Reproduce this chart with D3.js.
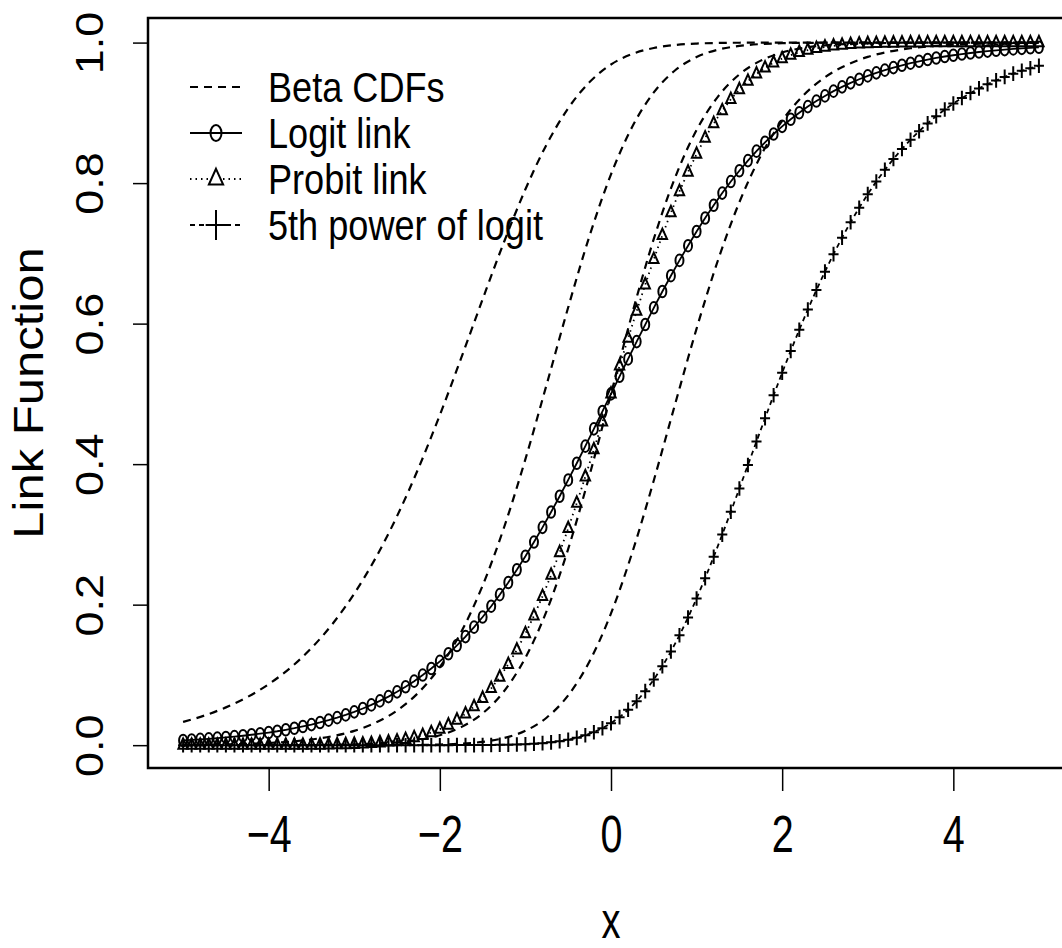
<!DOCTYPE html>
<html>
<head>
<meta charset="utf-8">
<script src="https://cdn.jsdelivr.net/npm/d3@7"></script>
<style>
  body { margin: 0; background: #fff; }
  text { font-family: "Liberation Sans", Arial, Helvetica, sans-serif; fill: #000; }
</style>
</head>
<body>
<script>
// x grid for the marker series (step 0.1)
var xs = [-5.0,-4.9,-4.8,-4.7,-4.6,-4.5,-4.4,-4.3,-4.2,-4.1,
  -4.0,-3.9,-3.8,-3.7,-3.6,-3.5,-3.4,-3.3,-3.2,-3.1,
  -3.0,-2.9,-2.8,-2.7,-2.6,-2.5,-2.4,-2.3,-2.2,-2.1,
  -2.0,-1.9,-1.8,-1.7,-1.6,-1.5,-1.4,-1.3,-1.2,-1.1,
  -1.0,-0.9,-0.8,-0.7,-0.6,-0.5,-0.4,-0.3,-0.2,-0.1,
  0.0,0.1,0.2,0.3,0.4,0.5,0.6,0.7,0.8,0.9,
  1.0,1.1,1.2,1.3,1.4,1.5,1.6,1.7,1.8,1.9,
  2.0,2.1,2.2,2.3,2.4,2.5,2.6,2.7,2.8,2.9,
  3.0,3.1,3.2,3.3,3.4,3.5,3.6,3.7,3.8,3.9,
  4.0,4.1,4.2,4.3,4.4,4.5,4.6,4.7,4.8,4.9,5.0];

var logitVals = [0.0067,0.0074,0.0082,0.0090,0.0100,0.0110,0.0121,0.0134,0.0148,0.0163,
  0.0180,0.0198,0.0219,0.0241,0.0266,0.0293,0.0323,0.0356,0.0392,0.0431,
  0.0474,0.0522,0.0573,0.0630,0.0691,0.0759,0.0832,0.0911,0.0998,0.1091,
  0.1192,0.1301,0.1419,0.1545,0.1680,0.1824,0.1978,0.2142,0.2315,0.2497,
  0.2689,0.2891,0.3100,0.3318,0.3543,0.3775,0.4013,0.4256,0.4502,0.4750,
  0.5000,0.5250,0.5498,0.5744,0.5987,0.6225,0.6457,0.6682,0.6900,0.7109,
  0.7311,0.7503,0.7685,0.7858,0.8022,0.8176,0.8320,0.8455,0.8581,0.8699,
  0.8808,0.8909,0.9002,0.9089,0.9168,0.9241,0.9309,0.9370,0.9427,0.9478,
  0.9526,0.9569,0.9608,0.9644,0.9677,0.9707,0.9734,0.9759,0.9781,0.9802,
  0.9820,0.9837,0.9852,0.9866,0.9879,0.9890,0.9900,0.9910,0.9918,0.9926,0.9933];

var probitVals = [0.0000,0.0000,0.0000,0.0000,0.0000,0.0000,0.0000,0.0000,0.0000,0.0000,
  0.0000,0.0000,0.0001,0.0001,0.0002,0.0002,0.0003,0.0005,0.0007,0.0010,
  0.0013,0.0019,0.0026,0.0035,0.0047,0.0062,0.0082,0.0107,0.0139,0.0179,
  0.0228,0.0287,0.0359,0.0446,0.0548,0.0668,0.0808,0.0968,0.1151,0.1357,
  0.1587,0.1841,0.2119,0.2420,0.2743,0.3085,0.3446,0.3821,0.4207,0.4602,
  0.5000,0.5398,0.5793,0.6179,0.6554,0.6915,0.7257,0.7580,0.7881,0.8159,
  0.8413,0.8643,0.8849,0.9032,0.9192,0.9332,0.9452,0.9554,0.9641,0.9713,
  0.9772,0.9821,0.9861,0.9893,0.9918,0.9938,0.9953,0.9965,0.9974,0.9981,
  0.9987,0.9990,0.9993,0.9995,0.9997,0.9998,0.9998,0.9999,0.9999,1.0000,
  1.0000,1.0000,1.0000,1.0000,1.0000,1.0000,1.0000,1.0000,1.0000,1.0000,1.0000];

var powerVals = [0.0000,0.0000,0.0000,0.0000,0.0000,0.0000,0.0000,0.0000,0.0000,0.0000,
  0.0000,0.0000,0.0000,0.0000,0.0000,0.0000,0.0000,0.0000,0.0000,0.0000,
  0.0000,0.0000,0.0000,0.0000,0.0000,0.0000,0.0000,0.0000,0.0000,0.0000,
  0.0000,0.0000,0.0001,0.0001,0.0001,0.0002,0.0003,0.0005,0.0007,0.0010,
  0.0014,0.0020,0.0029,0.0040,0.0056,0.0077,0.0104,0.0140,0.0185,0.0242,
  0.0313,0.0399,0.0503,0.0625,0.0769,0.0934,0.1122,0.1332,0.1564,0.1816,
  0.2088,0.2377,0.2681,0.2997,0.3322,0.3653,0.3987,0.4322,0.4654,0.4981,
  0.5301,0.5612,0.5913,0.6202,0.6478,0.6740,0.6989,0.7224,0.7444,0.7650,
  0.7843,0.8023,0.8189,0.8344,0.8486,0.8618,0.8739,0.8850,0.8953,0.9047,
  0.9132,0.9211,0.9283,0.9348,0.9408,0.9462,0.9512,0.9558,0.9599,0.9636,0.9670];

// x grid for the four Beta CDF curves (step 0.25)
var betaX = [-5,-4.75,-4.5,-4.25,-4,-3.75,-3.5,-3.25,-3,-2.75,-2.5,-2.25,-2,-1.75,-1.5,-1.25,-1,-0.75,-0.5,-0.25,
  0,0.25,0.5,0.75,1,1.25,1.5,1.75,2,2.25,2.5,2.75,3,3.25,3.5,3.75,4,4.25,4.5,4.75,5];

var betaA = [0.0330,0.0422,0.0538,0.0684,0.0868,0.1097,0.1382,0.1732,0.2157,0.2665,
  0.3260,0.3941,0.4699,0.5512,0.6347,0.7162,0.7912,0.8555,0.9066,0.9438,
  0.9688,0.9839,0.9923,0.9966,0.9986,0.9995,0.9998,0.9999,1.0000,1.0000,
  1.0000,1.0000,1.0000,1.0000,1.0000,1.0000,1.0000,1.0000,1.0000,1.0000,1.0000];
var betaB = [0.0004,0.0007,0.0012,0.0019,0.0031,0.0050,0.0081,0.0129,0.0204,0.0320,
  0.0493,0.0748,0.1112,0.1612,0.2272,0.3098,0.4071,0.5142,0.6232,0.7252,
  0.8125,0.8806,0.9291,0.9606,0.9795,0.9899,0.9953,0.9979,0.9991,0.9996,
  0.9998,0.9999,1.0000,1.0000,1.0000,1.0000,1.0000,1.0000,1.0000,1.0000,1.0000];
var betaC = [0.0000,0.0000,0.0000,0.0000,0.0001,0.0001,0.0002,0.0005,0.0010,0.0020,
  0.0039,0.0075,0.0141,0.0257,0.0453,0.0768,0.1245,0.1917,0.2794,0.3846,
  0.5000,0.6154,0.7206,0.8083,0.8755,0.9232,0.9547,0.9743,0.9859,0.9925,
  0.9961,0.9980,0.9990,0.9995,0.9998,0.9999,0.9999,1.0000,1.0000,1.0000,1.0000];
var betaD = [0.0000,0.0000,0.0000,0.0000,0.0000,0.0000,0.0000,0.0000,0.0000,0.0001,
  0.0002,0.0004,0.0009,0.0021,0.0047,0.0101,0.0205,0.0394,0.0709,0.1194,
  0.1875,0.2748,0.3768,0.4858,0.5929,0.6902,0.7728,0.8388,0.8888,0.9252,
  0.9507,0.9680,0.9796,0.9871,0.9919,0.9950,0.9969,0.9981,0.9988,0.9993,0.9996];

var xTicks = [-4, -2, 0, 2, 4];
var yTicks = [0, 0.2, 0.4, 0.6, 0.8, 1.0];
var legendLabels = ["Beta CDFs", "Logit link", "Probit link", "5th power of logit"];

[logitVals, probitVals, powerVals].forEach(function(a) {
  if (a.length !== xs.length) throw new Error("marker series length " + a.length);
});
[betaA, betaB, betaC, betaD].forEach(function(a) {
  if (a.length !== betaX.length) throw new Error("beta series length " + a.length);
});

var width = 1062, height = 948;
var box = {left: 148, right: 1074, top: 18, bottom: 768};
var squash = 0.76; // horizontal text squeeze seen in the picture

var svg = d3.select("body").append("svg")
  .attr("width", width)
  .attr("height", height);

svg.append("rect").attr("width", width).attr("height", height).attr("fill", "#fff");

var x = d3.scaleLinear().domain([-5.41, 5.41]).range([box.left, box.right]);
var y = d3.scaleLinear().domain([-0.0325, 1.035]).range([box.bottom, box.top]);

function pts(xv, yv) {
  return xv.map(function(v, i) { return [v, yv[i]]; });
}

var smooth = d3.line()
  .x(function(d) { return x(d[0]); })
  .y(function(d) { return y(d[1]); })
  .curve(d3.curveMonotoneX);

var straight = d3.line()
  .x(function(d) { return x(d[0]); })
  .y(function(d) { return y(d[1]); });

// Beta CDF curves
[betaA, betaB, betaC, betaD].forEach(function(b) {
  svg.append("path")
    .attr("d", smooth(pts(betaX, b)))
    .attr("fill", "none")
    .attr("stroke", "#000")
    .attr("stroke-width", 2.2)
    .attr("stroke-dasharray", "8,6");
});

// marker shapes (a little taller than wide, like the picture)
function markerPath(kind, s) {
  if (kind === "tri") return "M0," + (-6 * s) + "L" + (4.2 * s) + "," + (3.3 * s) + "L" + (-4.2 * s) + "," + (3.3 * s) + "Z";
  if (kind === "plus") return "M" + (-4.5 * s) + ",0H" + (4.5 * s) + "M0," + (-6.5 * s) + "V" + (6.5 * s);
  return null;
}

var series = [
  {vals: logitVals, dash: null, kind: "circle"},
  {vals: probitVals, dash: "1.5,4", kind: "tri"},
  {vals: powerVals, dash: "5,4", kind: "plus"}
];

series.forEach(function(s) {
  var data = pts(xs, s.vals);
  svg.append("path")
    .attr("d", straight(data))
    .attr("fill", "none")
    .attr("stroke", "#000")
    .attr("stroke-width", 1.8)
    .attr("stroke-dasharray", s.dash);

  var g = svg.append("g");
  if (s.kind === "circle") {
    g.selectAll("ellipse").data(data).enter().append("ellipse")
      .attr("cx", function(d) { return x(d[0]); })
      .attr("cy", function(d) { return y(d[1]); })
      .attr("rx", 4).attr("ry", 5.8)
      .attr("fill", "none").attr("stroke", "#000").attr("stroke-width", 2);
  } else {
    g.selectAll("path").data(data).enter().append("path")
      .attr("transform", function(d) { return "translate(" + x(d[0]) + "," + y(d[1]) + ")"; })
      .attr("d", markerPath(s.kind, 1.12))
      .attr("fill", "none").attr("stroke", "#000").attr("stroke-width", 2);
  }
});

// plot box
svg.append("rect")
  .attr("x", box.left).attr("y", box.top)
  .attr("width", box.right - box.left).attr("height", box.bottom - box.top)
  .attr("fill", "none").attr("stroke", "#000").attr("stroke-width", 2.5);

// x axis
var xAxis = svg.append("g")
  .attr("transform", "translate(0," + box.bottom + ")")
  .call(d3.axisBottom(x).tickValues(xTicks).tickSize(23).tickFormat(function(d) {
    return d < 0 ? "\u2212" + Math.abs(d) : String(d);
  }));
xAxis.select(".domain").remove();
xAxis.selectAll(".tick line").attr("stroke", "#000").attr("stroke-width", 1.5);
xAxis.selectAll(".tick text")
  .attr("y", 84).attr("dy", null)
  .attr("transform", "scale(" + squash + ",1)")
  .style("font-size", "52px");

// y axis
var yAxis = svg.append("g")
  .attr("transform", "translate(" + box.left + ",0)")
  .call(d3.axisLeft(y).tickValues(yTicks).tickSize(15).tickFormat(d3.format(".1f")));
yAxis.select(".domain").remove();
yAxis.selectAll(".tick line").attr("stroke", "#000").attr("stroke-width", 1.5);
yAxis.selectAll(".tick text")
  .attr("x", 0).attr("y", 0).attr("dy", null)
  .attr("text-anchor", "middle")
  .attr("transform", "translate(-45,0) scale(0.85,1) rotate(-90)")
  .style("font-size", "45px");

// axis titles
svg.append("text")
  .attr("transform", "translate(" + x(0) + ",938) scale(" + squash + ",1)")
  .attr("text-anchor", "middle")
  .style("font-size", "50px")
  .text("x");

svg.append("text")
  .attr("transform", "translate(43," + ((box.top + box.bottom) / 2) + ") scale(0.85,1) rotate(-90)")
  .attr("text-anchor", "middle")
  .style("font-size", "49px")
  .text("Link Function");

// legend
var legend = svg.append("g");
var legendDash = ["8,6", null, "1.5,4", "5,4"];
legendLabels.forEach(function(lab, i) {
  var cy = 87 + i * 46;
  legend.append("line")
    .attr("x1", 190).attr("x2", 242).attr("y1", cy).attr("y2", cy)
    .attr("stroke", "#000").attr("stroke-width", i === 0 ? 2.2 : 1.8)
    .attr("stroke-dasharray", legendDash[i]);
  if (i === 1) {
    legend.append("ellipse").attr("cx", 216).attr("cy", cy).attr("rx", 5.5).attr("ry", 8)
      .attr("fill", "none").attr("stroke", "#000").attr("stroke-width", 2);
  } else if (i === 2) {
    legend.append("path").attr("transform", "translate(216," + cy + ")")
      .attr("d", markerPath("tri", 1.7))
      .attr("fill", "#fff").attr("stroke", "#000").attr("stroke-width", 2);
  } else if (i === 3) {
    legend.append("path").attr("transform", "translate(216," + cy + ")")
      .attr("d", markerPath("plus", 2.3))
      .attr("fill", "none").attr("stroke", "#000").attr("stroke-width", 2);
  }
  legend.append("text")
    .attr("transform", "translate(268," + (cy + 15) + ") scale(0.86,1)")
    .style("font-size", "42px")
    .text(lab);
});
</script>
</body>
</html>
